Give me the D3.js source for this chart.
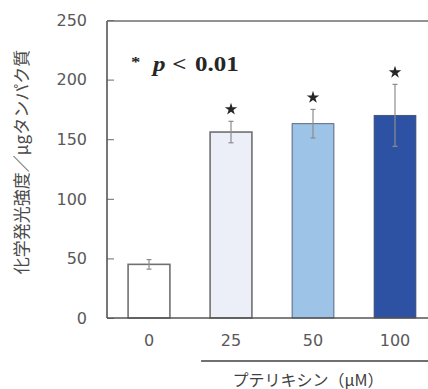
<!DOCTYPE html>
<html>
<head>
<meta charset="utf-8">
<script src="https://cdn.jsdelivr.net/npm/d3@7"></script>
<style>
    body { margin: 0; background: #fff; }
    svg { display: block; }
</style>
</head>
<body>
<script>
// data
var doses = ["0", "25", "50", "100"];
var means = [45, 156, 163, 170];
var errors = [4, 9, 12, 26];
var significant = [false, true, true, true];
var fills = ["#ffffff", "#eceff8", "#9dc3e6", "#2d51a3"];
var yTicks = [0, 50, 100, 150, 200, 250];

var W = 428, H = 389;
var svg = d3.select("body").append("svg")
    .attr("width", W)
    .attr("height", H);

// plot area (right edge runs past the window)
var plot = {left: 107, right: 436, top: 20, bottom: 318};

var x = d3.scaleBand()
    .domain(doses)
    .range([108, 436])
    .paddingInner(0.49)
    .paddingOuter(0.245);
var y = d3.scaleLinear()
    .domain([0, 250])
    .range([plot.bottom, plot.top]);

var grey = "#595959";

// y axis, ticks pointing inwards
var yAxis = svg.append("g")
    .attr("transform", "translate(" + plot.left + ",0)")
    .call(d3.axisRight(y).tickValues(yTicks).tickSize(7).tickFormat(""));
yAxis.select(".domain").remove();
yAxis.selectAll("line").attr("stroke", "#6b6b6b");

svg.selectAll(".ylab")
    .data(yTicks)
    .enter()
    .append("text")
    .attr("class", "ylab")
    .attr("x", 87)
    .attr("y", function(d) { return y(d); })
    .attr("dy", "0.36em")
    .attr("text-anchor", "end")
    .attr("fill", grey)
    .style("font-family", "DejaVu Sans")
    .style("font-size", "16px")
    .text(function(d) { return d; });

// bars
svg.selectAll(".bar")
    .data(doses)
    .enter()
    .append("rect")
    .attr("class", "bar")
    .attr("x", function(d) { return x(d); })
    .attr("y", function(d, i) { return y(means[i]); })
    .attr("width", x.bandwidth())
    .attr("height", function(d, i) { return plot.bottom - y(means[i]); })
    .attr("fill", function(d, i) { return fills[i]; })
    .attr("stroke", function(d, i) { return i < 2 ? "#707070" : "#3b4a66"; })
    .attr("stroke-width", function(d, i) { return i < 2 ? 1.6 : 0.8; });

// frame: left, top and bottom edges
svg.append("line")
    .attr("x1", plot.left).attr("x2", plot.left)
    .attr("y1", y(250) + 1).attr("y2", plot.bottom)
    .attr("stroke", "#555555").attr("stroke-width", 1.6);
svg.append("line")
    .attr("x1", plot.left).attr("x2", plot.right)
    .attr("y1", y(250) + 1).attr("y2", y(250) + 1)
    .attr("stroke", "#6e6e6e").attr("stroke-width", 1.6);
svg.append("line")
    .attr("x1", plot.left).attr("x2", plot.right)
    .attr("y1", plot.bottom).attr("y2", plot.bottom)
    .attr("stroke", "#555555").attr("stroke-width", 1.6);

// error bars
var eb = svg.selectAll(".err")
    .data(doses)
    .enter()
    .append("g")
    .attr("class", "err")
    .attr("stroke", "#8c8c8c")
    .attr("stroke-width", 1.2);
eb.append("line")
    .attr("x1", function(d) { return x(d) + x.bandwidth() / 2; })
    .attr("x2", function(d) { return x(d) + x.bandwidth() / 2; })
    .attr("y1", function(d, i) { return y(means[i] - errors[i]); })
    .attr("y2", function(d, i) { return y(means[i] + errors[i]); });
eb.selectAll(".cap")
    .data(function(d, i) { return [[d, means[i] - errors[i]], [d, means[i] + errors[i]]]; })
    .enter()
    .append("line")
    .attr("x1", function(d) { return x(d[0]) + x.bandwidth() / 2 - 2.5; })
    .attr("x2", function(d) { return x(d[0]) + x.bandwidth() / 2 + 2.5; })
    .attr("y1", function(d) { return y(d[1]); })
    .attr("y2", function(d) { return y(d[1]); });

// significance stars
svg.selectAll(".star")
    .data(doses.filter(function(d, i) { return significant[i]; }))
    .enter()
    .append("path")
    .attr("class", "star")
    .attr("d", d3.symbol().type(d3.symbolStar).size(48))
    .attr("fill", "#262626")
    .attr("transform", function(d) {
        var i = doses.indexOf(d);
        return "translate(" + (x(d) + x.bandwidth() / 2) + "," + (y(means[i] + errors[i]) - 12) + ")";
    });

// x labels
svg.selectAll(".xlab")
    .data(doses)
    .enter()
    .append("text")
    .attr("class", "xlab")
    .attr("x", function(d) { return x(d) + x.bandwidth() / 2; })
    .attr("y", 340)
    .attr("dy", "0.36em")
    .attr("text-anchor", "middle")
    .attr("fill", grey)
    .style("font-family", "DejaVu Sans")
    .style("font-size", "16px")
    .text(function(d) { return d; });

// bracket line under the treated doses
svg.append("line")
    .attr("x1", x("25") - 9)
    .attr("x2", plot.right)
    .attr("y1", 361)
    .attr("y2", 361)
    .attr("stroke", "#404040")
    .attr("stroke-width", 1.4);

svg.append("text")
    .attr("x", 308)
    .attr("y", 386)
    .attr("text-anchor", "middle")
    .attr("fill", "#404040")
    .style("font-family", "Noto Sans CJK JP")
    .style("font-size", "16px")
    .text("プテリキシン（μM）");

// y axis title
svg.append("text")
    .attr("transform", "translate(28,162) rotate(-90)")
    .attr("text-anchor", "middle")
    .attr("fill", "#4a4a4a")
    .style("font-family", "Noto Sans CJK JP")
    .style("font-size", "17px")
    .text("化学発光強度／μgタンパク質");

// significance note (wide serif, so stretch horizontally)
var note = svg.append("text")
    .attr("transform", "translate(131,70) scale(1.25,1)")
    .attr("fill", "#262626")
    .style("font-family", "Liberation Serif")
    .style("font-weight", "bold")
    .style("font-size", "20px");
note.append("tspan").attr("x", 0).attr("dy", "-0.2em").style("font-size", "15px").text("*");
note.append("tspan").attr("x", 17.6).attr("dy", "0.2em").style("font-style", "italic").text("p");
note.append("tspan").attr("x", 33).text("<");
note.append("tspan").attr("x", 51.2).text("0.01");
</script>
</body>
</html>
